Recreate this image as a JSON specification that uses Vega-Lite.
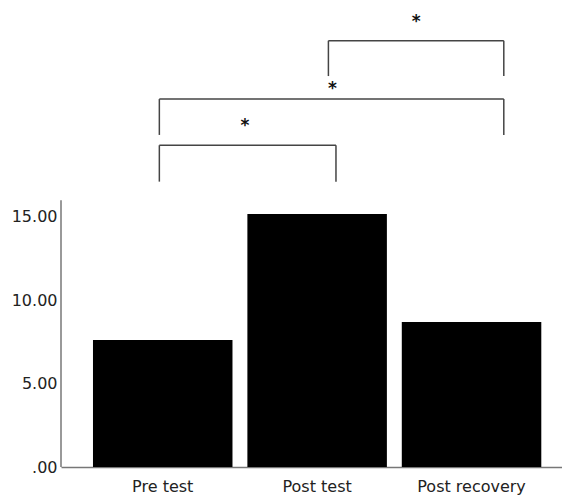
{
  "$schema": "https://vega.github.io/schema/vega-lite/v6.json",
  "autosize": "none",
  "padding": {"left": 61, "top": 0, "right": 0, "bottom": 29},
  "width": 501,
  "height": 467,
  "background": "white",
  "config": {
    "view": {"stroke": null},
    "font": "DejaVu Sans",
    "axis": {
      "grid": false,
      "ticks": false,
      "title": null,
      "labelFont": "DejaVu Sans",
      "labelFontSize": 16,
      "labelColor": "#222222",
      "domainColor": "#777777",
      "domainWidth": 1.5
    }
  },
  "datasets": {
    "bars": [
      {"group": "Pre test", "value": 7.61},
      {"group": "Post test", "value": 15.17},
      {"group": "Post recovery", "value": 8.69}
    ],
    "brackets": [
      {"left": -0.024, "right": 1.12, "low": 17.11, "high": 19.29, "starX": 0.531, "starY": 20.14},
      {"left": -0.024, "right": 2.207, "low": 19.91, "high": 22.06, "starX": 1.097, "starY": 22.36},
      {"left": 1.071, "right": 2.207, "low": 23.44, "high": 25.56, "starX": 1.639, "starY": 26.38}
    ],
    "axisline": [{"from": 0, "to": 16}]
  },
  "layer": [
    {
      "data": {"name": "bars"},
      "mark": {"type": "bar", "color": "#000000"},
      "encoding": {
        "x": {
          "field": "group",
          "type": "nominal",
          "sort": null,
          "scale": {"paddingInner": 0.0965, "paddingOuter": 0.1706, "align": 0.607},
          "axis": {"labelAngle": 0, "labelPadding": 11, "domain": true}
        },
        "y": {
          "field": "value",
          "type": "quantitative",
          "scale": {"domain": [0, 28], "nice": false, "zero": true},
          "axis": {
            "values": [0, 5, 10, 15],
            "domain": false,
            "labelPadding": 4,
            "labelExpr": "datum.value == 0 ? '.00' : format(datum.value, '.2f')"
          }
        }
      }
    },
    {
      "layer": [
        {
          "data": {"name": "axisline"},
          "mark": {"type": "rule", "color": "#777777", "strokeWidth": 1.5},
          "encoding": {
            "x": {"value": 0},
            "y": {"field": "from", "type": "quantitative"},
            "y2": {"field": "to"}
          }
        },
        {
          "data": {"name": "brackets"},
          "mark": {"type": "rule", "color": "#444444", "strokeWidth": 1.5},
          "encoding": {
            "x": {"field": "left", "type": "quantitative", "scale": {"domain": [-0.661, 2.584], "nice": false, "zero": false}, "axis": null},
            "x2": {"field": "right"},
            "y": {"field": "high", "type": "quantitative"}
          }
        },
        {
          "data": {"name": "brackets"},
          "mark": {"type": "rule", "color": "#444444", "strokeWidth": 1.5},
          "encoding": {
            "x": {"field": "left", "type": "quantitative", "scale": {"domain": [-0.661, 2.584], "nice": false, "zero": false}, "axis": null},
            "y": {"field": "low", "type": "quantitative"},
            "y2": {"field": "high"}
          }
        },
        {
          "data": {"name": "brackets"},
          "mark": {"type": "rule", "color": "#444444", "strokeWidth": 1.5},
          "encoding": {
            "x": {"field": "right", "type": "quantitative", "scale": {"domain": [-0.661, 2.584], "nice": false, "zero": false}, "axis": null},
            "y": {"field": "low", "type": "quantitative"},
            "y2": {"field": "high"}
          }
        },
        {
          "data": {"name": "brackets"},
          "mark": {"type": "text", "text": "*", "fontSize": 17, "fontWeight": "bold", "color": "#111111", "baseline": "alphabetic", "align": "center"},
          "encoding": {
            "x": {"field": "starX", "type": "quantitative", "scale": {"domain": [-0.661, 2.584], "nice": false, "zero": false}, "axis": null},
            "y": {"field": "starY", "type": "quantitative"}
          }
        }
      ]
    }
  ],
  "resolve": {"scale": {"x": "independent"}}
}
